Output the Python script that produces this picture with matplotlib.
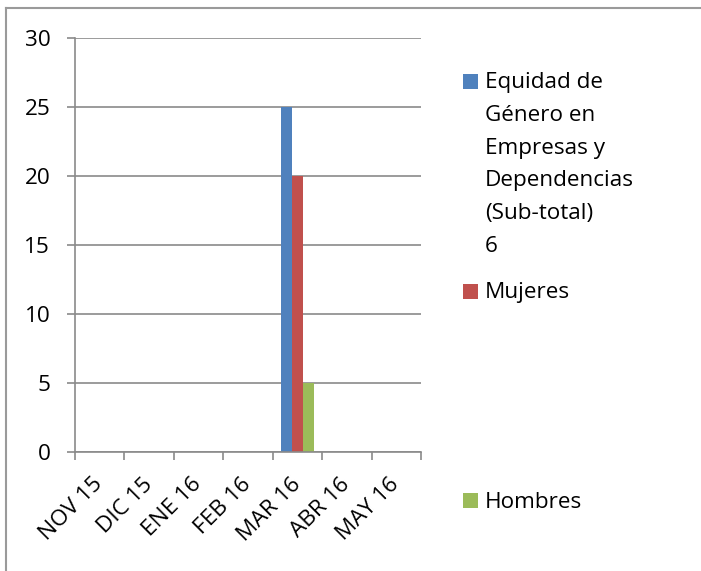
import matplotlib
matplotlib.use("Agg")
import matplotlib.pyplot as plt
from matplotlib.patches import Rectangle
from matplotlib.lines import Line2D
import numpy as np

categories = ["NOV 15", "DIC 15", "ENE 16", "FEB 16", "MAR 16", "ABR 16", "MAY 16"]
series_names = ["Equidad de Género en Empresas y Dependencias (Sub-total) 6", "Mujeres", "Hombres"]
equidad = [0, 0, 0, 0, 25, 0, 0]
mujeres = [0, 0, 0, 0, 20, 0, 0]
hombres = [0, 0, 0, 0, 5, 0, 0]
yticks = [0, 5, 10, 15, 20, 25, 30]

colors = ["#4F81BD", "#C0504D", "#9BBB59"]
FONT = "Open Sans"
FS = 16.2
W, H = 701, 571

fig = plt.figure(figsize=(W / 100, H / 100), dpi=100)
ax = fig.add_axes([75 / W, 1 - 452 / H, (421 - 75) / W, (452 - 38) / H])

x = np.arange(len(categories))
bw = 0.222
for i, (vals, c, name) in enumerate(zip([equidad, mujeres, hombres], colors, series_names)):
    ax.bar(x + (i - 1) * bw, vals, width=bw, color=c, label=name, zorder=3)

ax.set_xlim(-0.5, len(categories) - 0.5)
ax.set_ylim(0, 30)
ax.set_yticks(yticks)
ax.set_yticklabels([str(v) for v in yticks], fontfamily=FONT, fontsize=FS)
ax.set_xticks(x)
ax.set_xticklabels(categories, rotation=45, ha="right", va="center", rotation_mode="anchor",
                   fontfamily=FONT, fontsize=FS)
ax.set_xticks(np.arange(len(categories) + 1) - 0.5, minor=True)
gc = "#8A8A8A"
ax.tick_params(axis="x", which="major", length=0, pad=21)
ax.tick_params(axis="x", which="minor", length=5.5, width=1.2, color=gc, direction="out")
ax.tick_params(axis="y", length=5.8, width=1.2, color=gc, pad=12)
ax.yaxis.grid(True, color=gc, linewidth=1.2, zorder=0)
ax.set_axisbelow(True)
for s in ["top", "right"]:
    ax.spines[s].set_visible(False)
for s in ["left", "bottom"]:
    ax.spines[s].set_color(gc)
    ax.spines[s].set_linewidth(1.2)
    ax.spines[s].set_zorder(4)

# outer border (top and left)
fig.add_artist(Line2D([6 / W, 1], [1 - 8 / H, 1 - 8 / H], color="#9A9A9A", lw=1.5,
                      transform=fig.transFigure))
fig.add_artist(Line2D([6 / W, 6 / W], [0, 1 - 8 / H], color="#9A9A9A", lw=1.5,
                      transform=fig.transFigure))

# legend
legend_lines = [["Equidad de", "Género en", "Empresas y", "Dependencias", "(Sub-total)", "6"],
                ["Mujeres"], ["Hombres"]]
first_baselines = [88.3, 298.3, 507.7]
line_step = 32.7
for lines, c, b in zip(legend_lines, colors, first_baselines):
    fig.add_artist(Rectangle((463 / W, 1 - (b + 0.5) / H), 15 / W, 15 / H,
                             facecolor=c, edgecolor="none", transform=fig.transFigure))
    for k, t in enumerate(lines):
        fig.text(485 / W, 1 - (b + k * line_step) / H, t, fontfamily=FONT, fontsize=FS,
                 va="baseline", ha="left")

fig.savefig("out.png", dpi=100)
